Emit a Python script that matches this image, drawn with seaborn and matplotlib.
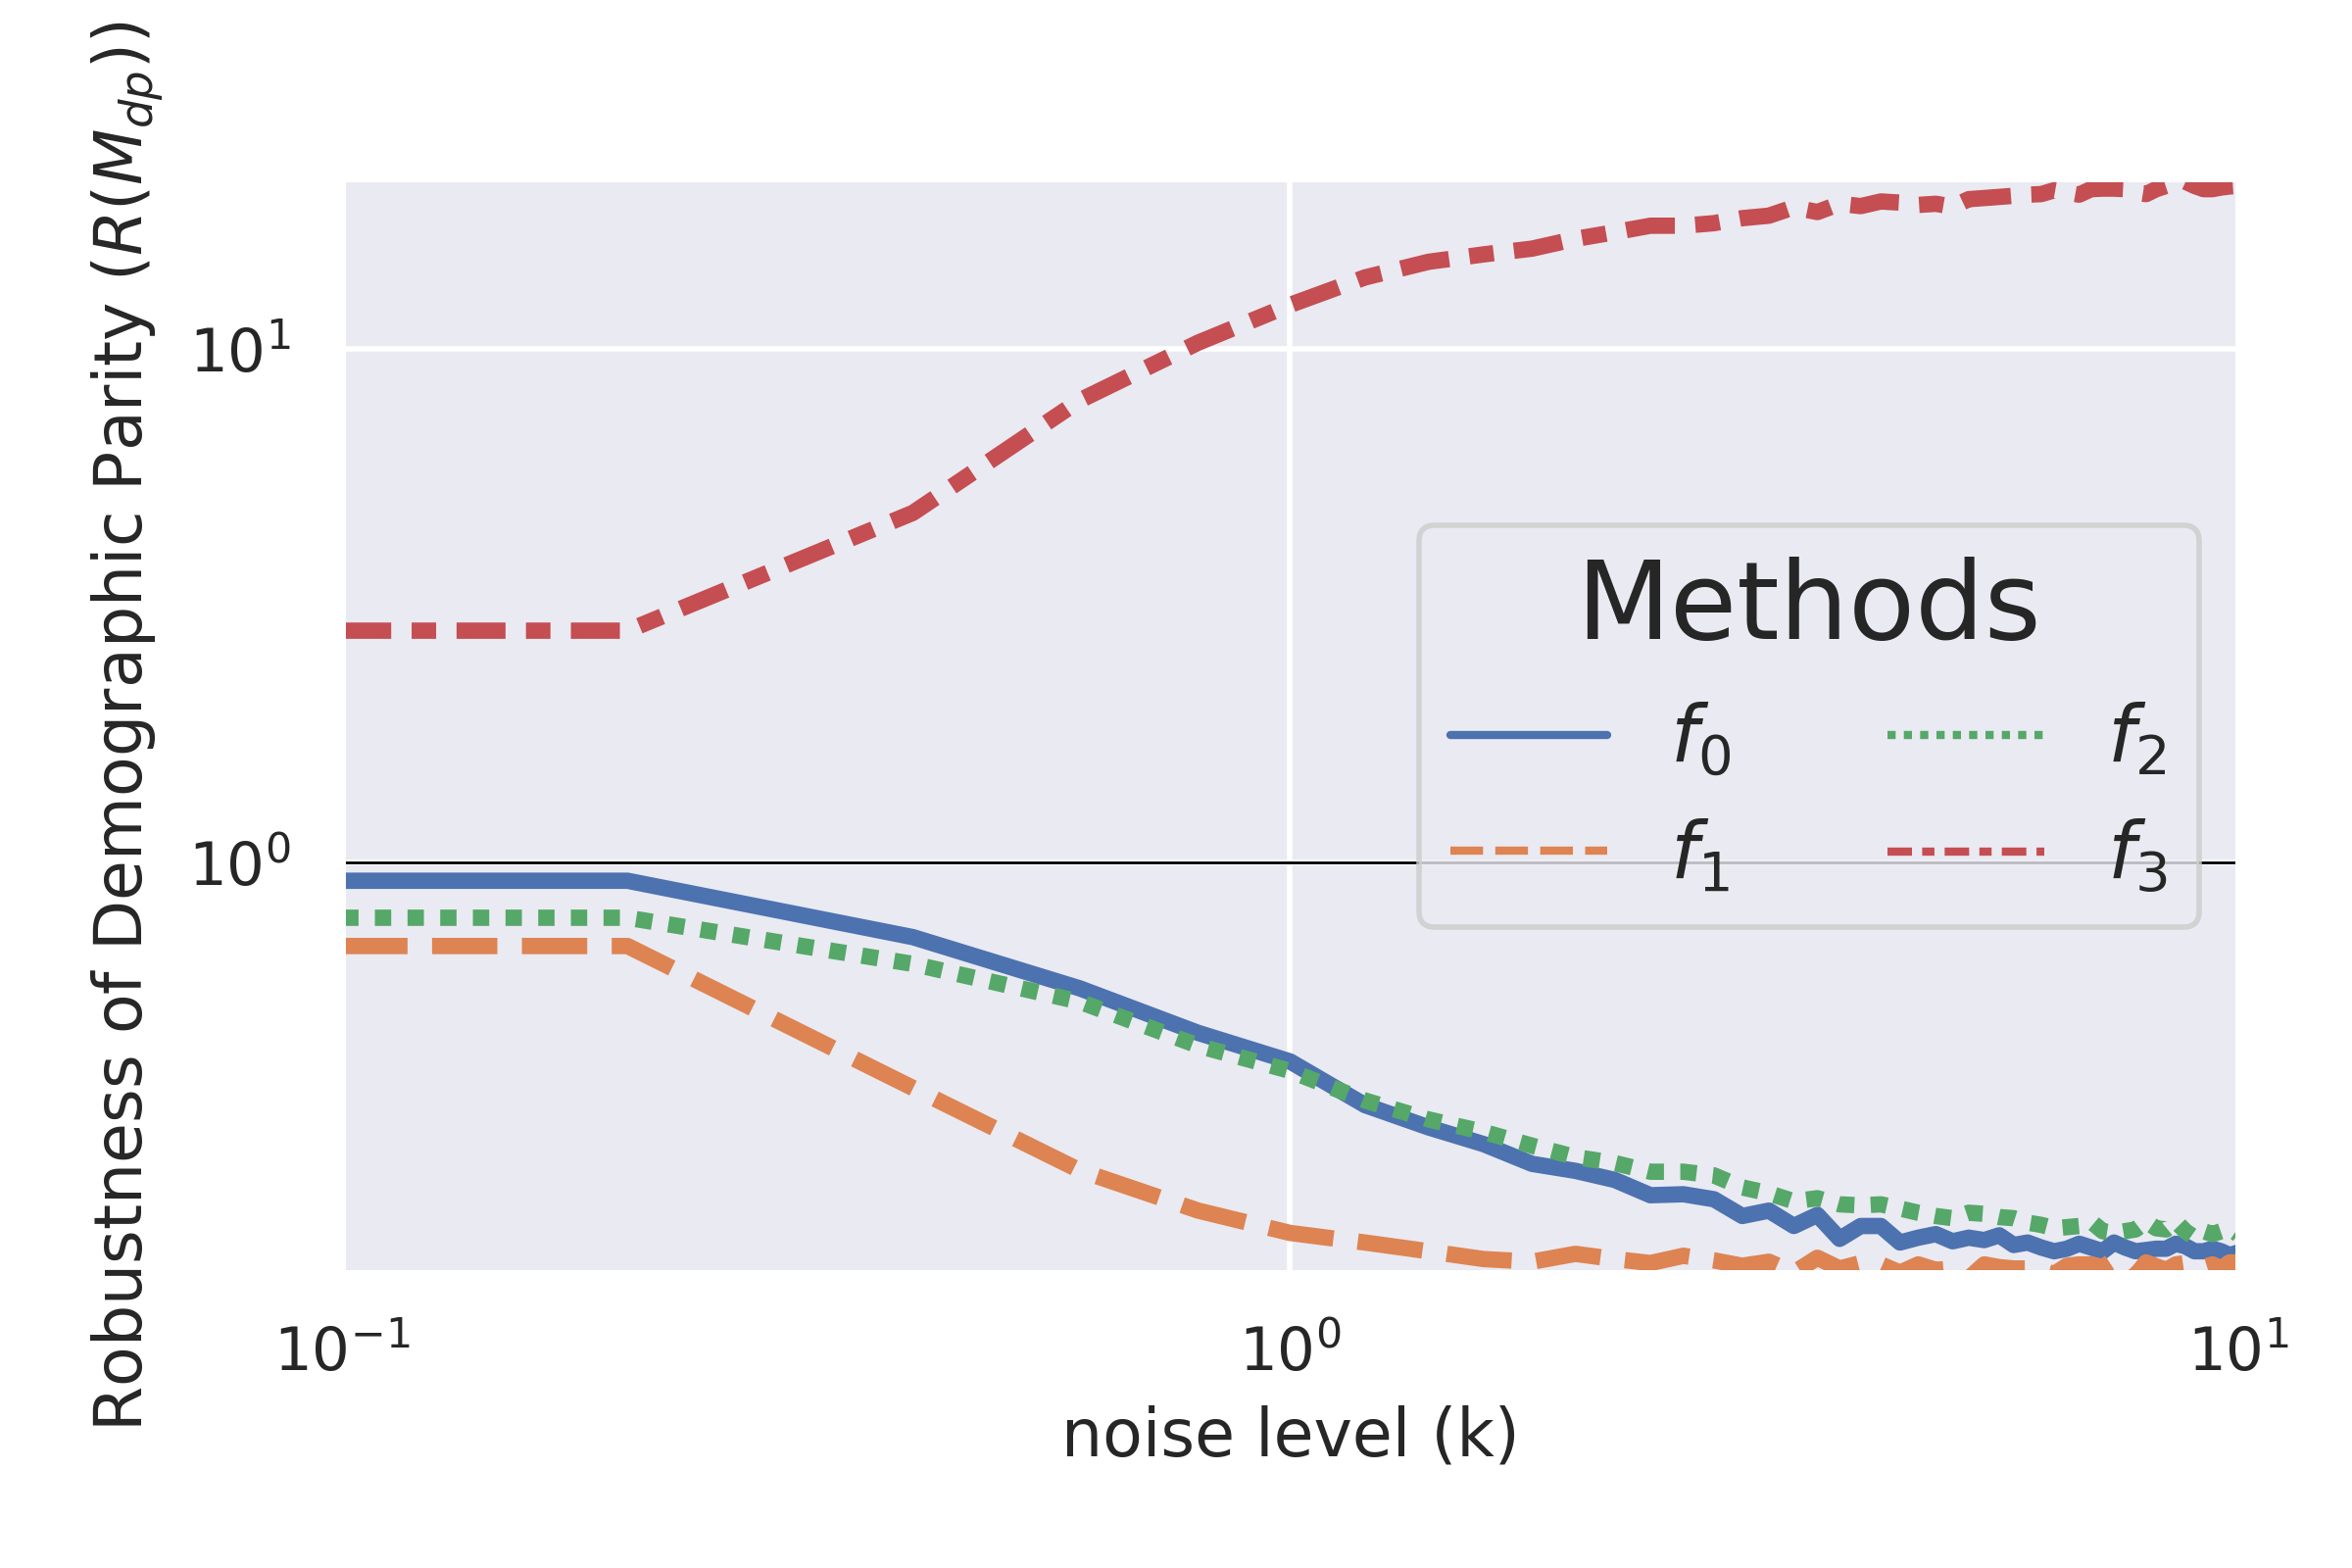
import matplotlib
matplotlib.use("Agg")
import matplotlib.pyplot as plt
from matplotlib.lines import Line2D
import pandas as pd
import seaborn as sns

noise = [0.1, 0.2, 0.4, 0.6, 0.8, 1.0, 1.2, 1.4, 1.6, 1.8,
         2.0, 2.2, 2.4, 2.6, 2.8, 3.0, 3.2, 3.4, 3.6, 3.8,
         4.0, 4.2, 4.4, 4.6, 4.8, 5.0, 5.2, 5.4, 5.6, 5.8,
         6.0, 6.2, 6.4, 6.6, 6.8, 7.0, 7.2, 7.4, 7.6, 7.8,
         8.0, 8.2, 8.4, 8.6, 8.8, 9.0, 9.2, 9.4, 9.6, 9.8, 10.0]

f0 = [0.922, 0.922, 0.716, 0.569, 0.466, 0.410, 0.337, 0.305, 0.283, 0.259,
      0.251, 0.241, 0.225, 0.226, 0.221, 0.205, 0.210, 0.196, 0.206, 0.185,
      0.196, 0.196, 0.182, 0.186, 0.189, 0.183, 0.186, 0.184, 0.188, 0.180,
      0.182, 0.178, 0.175, 0.177, 0.181, 0.178, 0.175, 0.182, 0.178, 0.175,
      0.176, 0.177, 0.177, 0.181, 0.179, 0.175, 0.175, 0.177, 0.175, 0.172, 0.174]

f1 = [0.688, 0.688, 0.364, 0.2515, 0.210, 0.190, 0.182, 0.175, 0.169, 0.167,
      0.173, 0.169, 0.166, 0.1715, 0.168, 0.164, 0.167, 0.159, 0.170, 0.162,
      0.166, 0.165, 0.159, 0.165, 0.161, 0.162, 0.155, 0.165, 0.163, 0.162,
      0.162, 0.161, 0.158, 0.164, 0.165, 0.165, 0.163, 0.1685, 0.1665, 0.157,
      0.1665, 0.1636, 0.161, 0.165, 0.166, 0.1646, 0.163, 0.165, 0.162, 0.1665, 0.1665]

f2 = [0.781, 0.781, 0.635, 0.536, 0.440, 0.393, 0.344, 0.316, 0.299, 0.281,
      0.267, 0.260, 0.250, 0.250, 0.246, 0.233, 0.227, 0.219, 0.222, 0.216,
      0.215, 0.216, 0.212, 0.208, 0.205, 0.203, 0.208, 0.207, 0.204, 0.203,
      0.199, 0.197, 0.194, 0.195, 0.196, 0.200, 0.1915, 0.190, 0.1915, 0.193,
      0.200, 0.194, 0.193, 0.200, 0.1915, 0.186, 0.1915, 0.189, 0.1915, 0.194, 0.189]

f3 = [2.83, 2.83, 4.8, 7.95, 10.3, 12.2, 13.8, 14.8, 15.3, 15.7,
      16.4, 16.9, 17.4, 17.4, 17.6, 18.0, 18.2, 18.9, 18.5, 19.2,
      19.0, 19.4, 19.3, 19.1, 19.2, 18.95, 19.6, 19.7, 19.8, 19.9,
      20.0, 20.05, 20.4, 20.2, 20.0, 20.5, 20.55, 20.55, 20.5, 20.2,
      20.05, 20.5, 20.8, 21.0, 21.2, 20.8, 20.5, 20.5, 20.65, 20.75, 20.8]

methods = ["$f_0$", "$f_1$", "$f_2$", "$f_3$"]
series = [f0, f1, f2, f3]

sns.set_theme(style="darkgrid")

rows = []
for m, vals in zip(methods, series):
    for x, v in zip(noise, vals):
        rows.append({"noise": x, "value": v, "method": m})
df = pd.DataFrame(rows)

fig, ax = plt.subplots(figsize=(6, 4), dpi=400)
fig.subplots_adjust(left=0.1455, right=0.9515, top=0.886, bottom=0.188)

palette = sns.color_palette("deep", 4)
dash_list = ["", (4, 1.5), (1, 1), (3, 1.25, 1.5, 1.25)]

sns.lineplot(data=df, x="noise", y="value", hue="method", style="method",
             hue_order=methods, style_order=methods, palette=palette,
             dashes=dash_list, linewidth=3, errorbar=None, legend=False, ax=ax)

ax.axhline(1.0, color="black", linewidth=0.5)

ax.set_xscale("log")
ax.set_yscale("log")
ax.set_xlim(0.1, 10)
ax.set_ylim(0.1586, 21.48)

ax.set_xlabel("noise level (k)", fontsize=12)
ax.set_ylabel("Robustness of Demographic Parity ($R(M_{dp})$)", fontsize=12)
ax.tick_params(labelsize=11)

handles = []
for c, d, m in zip(palette, dash_list, methods):
    if d == "":
        h = Line2D([], [], color=c, linewidth=1.5, linestyle="-", label=m)
    else:
        h = Line2D([], [], color=c, linewidth=1.5, dashes=d, label=m)
    handles.append(h)

ax.legend(handles=handles, title="Methods", ncol=2, loc="center right",
          fontsize=14.4, title_fontsize=20)

fig.savefig("out.png", dpi=400)
